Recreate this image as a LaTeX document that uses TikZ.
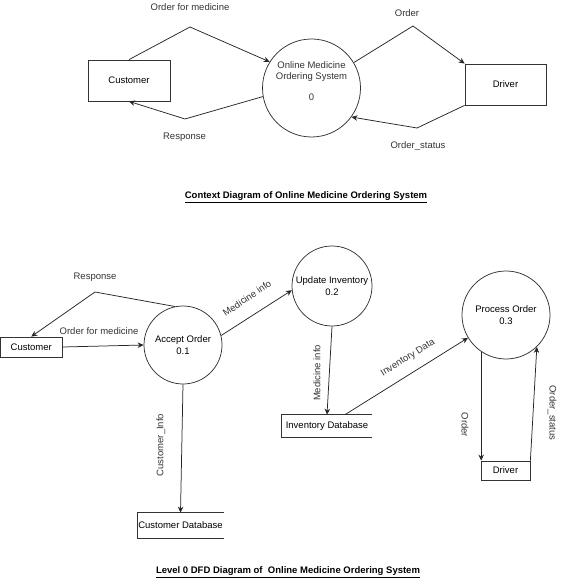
\documentclass[tikz,border=0pt]{standalone}
\usepackage{fontspec}
\setmainfont{Liberation Sans}
\usetikzlibrary{arrows.meta}
\tikzset{every picture/.style={line width=0.75pt}}
\tikzset{
entity/.style={draw=black!80, inner sep=0.75pt},
bubble/.style={draw=black!80, circle, inner sep=0.75pt, align=center},
store/.style={inner sep=0.75pt},
flow/.style={draw=black!85, -{Stealth[length=6pt,width=5.5pt]}},
lbl/.style={inner sep=0.75pt, text=black!80},
}

\begin{document}
\begin{tikzpicture}[x=1pt,y=1pt,yscale=-1,font=\fontsize{9.5}{11.5}\selectfont]
\useasboundingbox (0,0) rectangle (560,580);

%Shape: Rectangle
\node[entity, minimum width=82pt, minimum height=41pt] (cust) at (129,80.5) {Customer};
%Shape: Circle
\node[bubble, minimum size=98pt] (sys) at (311.5,88) {};
\node[lbl, align=center] (systxt) at (311.5,81) {Online Medicine\\Ordering System\\[9pt]0};
%Shape: Rectangle
\node[entity, minimum width=81pt, minimum height=41pt] (drv) at (505.5,84.5) {Driver};

%Straight Lines
\draw[flow] (cust.north) -- (190,27) -- (sys.148);
\draw[flow] (sys.190) -- (185,119) -- (cust.south);
\draw[flow] (sys.31) -- (413,26) -- (drv.north west);
\draw[flow] (drv.south west) -- (417,128) -- (sys.-36);

% Text Node
\node[lbl] (lblorderfor) at (190,7) {Order for medicine};
\node[lbl] (lblresp) at (184.5,137) {Response};
\node[lbl] (lblorder) at (407,13) {Order};
\node[lbl] (lblstatus) at (418,146) {Order\_status};
\node[lbl, text=black] (title1) at (306,197) {\underline{\textbf{Context Diagram of Online Medicine Ordering System}}};

%Shape: Rectangle
\node[entity, minimum width=61.5pt, minimum height=20pt] (cust2) at (31.25,347) {Customer};
%Shape: Circle
\node[bubble, minimum size=78pt] (acc) at (183,345) {Accept Order\\0.1};
\node[bubble, minimum size=80pt] (upd) at (332,286) {Update Inventory\\0.2};
\node[bubble, minimum size=88pt] (proc) at (506,315) {Process Order\\0.3};
%Shape: Data store
\node[store, minimum width=90pt, minimum height=22pt] (invdb) at (327,426) {Inventory Database};
\draw[draw=black!80] (invdb.north east) -- (invdb.north west) -- (invdb.south west) -- (invdb.south east);
\node[store, minimum width=83pt, minimum height=25pt] (custdb) at (180.5,525.5) {Customer Database};
\draw[draw=black!80] (custdb.north east) -- (custdb.north west) -- (custdb.south west) -- (custdb.south east);
%Shape: Rectangle
\node[entity, minimum width=49pt, minimum height=19pt] (drv2) at (505.5,470.5) {Driver};

%Straight Lines
\draw[flow] (acc.102) -- (95,292) -- (cust2.north);
\draw[flow] (cust2.east) -- (acc.west);
\draw[flow] (acc.14) -- (upd.186);
\draw[flow] (upd.south) -- (invdb.north);
\draw[flow] ([xshift=18pt]invdb.north) -- (proc.211);
\draw[flow] (acc.south) -- (custdb.north);
\draw[flow] (proc.236) -- (proc.236 |- drv2.north);
\draw[flow] (drv2.north east) -- (proc.-46);

% Text Node
\node[lbl] (lblresp2) at (95,277) {Response};
\node[lbl] (lblorderfor2) at (99,331) {Order for medicine};
\node[lbl, rotate=34] (lblmedinfo) at (247,298) {Medicine info};
\node[lbl, rotate=90] (lblmedinfo2) at (317,373) {Medicine info};
\node[lbl, rotate=32] (lblinvdata) at (408,358) {Inventory Data};
\node[lbl, rotate=90] (lblcustinfo) at (161,445) {Customer\_Info};
\node[lbl, rotate=-90] (lblorder2) at (465,425) {Order};
\node[lbl, rotate=-90] (lblstatus2) at (552,413) {Order\_status};
\node[lbl, text=black] (title2) at (288,572) {\underline{\textbf{Level 0 DFD Diagram of\ \ Online Medicine Ordering System}}};

\end{tikzpicture}
\end{document}
